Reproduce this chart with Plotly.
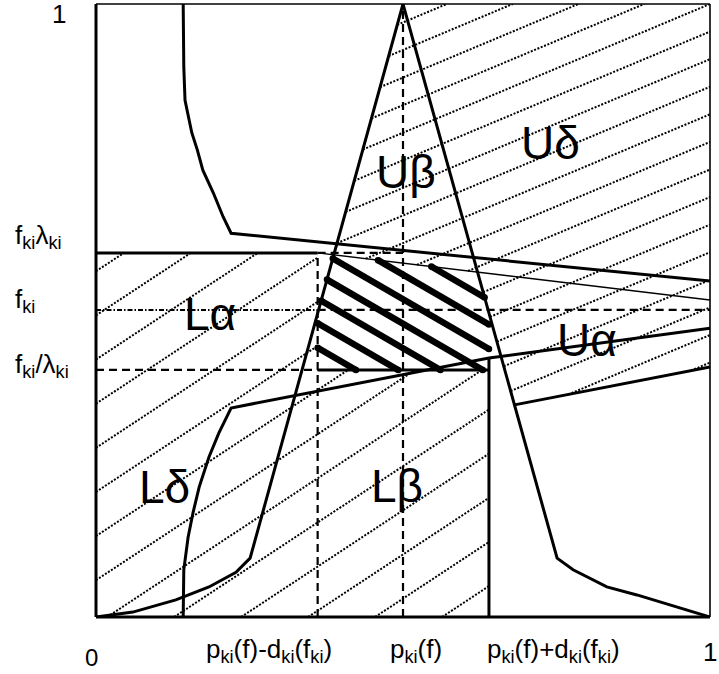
import plotly.graph_objects as go

# ---- key levels (data units, axes 0..1) ----
p_lo, p_mid, p_hi = 0.361, 0.5, 0.640          # p-d, p, p+d
f_hi, f_mid, f_lo = 0.594, 0.501, 0.403        # f*lambda, f, f/lambda

x_tick_pos = [0.0, p_lo, p_mid, p_hi, 1.0]
x_tick_text = ["0",
               "p<sub>ki</sub>(f)-d<sub>ki</sub>(f<sub>ki</sub>)",
               "p<sub>ki</sub>(f)",
               "p<sub>ki</sub>(f)+d<sub>ki</sub>(f<sub>ki</sub>)",
               "1"]
y_tick_pos = [1.0, f_hi, f_mid, f_lo]
y_tick_text = ["1",
               "f<sub>ki</sub>λ<sub>ki</sub>",
               "f<sub>ki</sub>",
               "f<sub>ki</sub>/λ<sub>ki</sub>"]

# triangle (beta) with its bent tails to (0,0) and (1,0)
tri_x = [0.0, 0.060, 0.130, 0.184, 0.228, 0.251, 0.5, 0.751, 0.777, 0.832, 0.881, 0.946, 1.0]
tri_y = [0.0, 0.008, 0.028, 0.049, 0.073, 0.096, 1.0, 0.096, 0.077, 0.049, 0.036, 0.016, 0.0]

# upper-left curve and its straight continuation to the right edge
ul_x = [0.142, 0.142, 0.143, 0.145, 0.150, 0.156, 0.165, 0.174, 0.191, 0.207, 0.220, 1.0]
ul_y = [1.0, 0.953, 0.897, 0.843, 0.816, 0.790, 0.762, 0.729, 0.692, 0.653, 0.626, 0.548]

# lower-left curve, then line through (p_hi, .) to right edge
ll_x = [0.142, 0.142, 0.143, 0.150, 0.158, 0.168, 0.184, 0.200, 0.220, 0.640, 1.0]
ll_y = [0.0, 0.028, 0.077, 0.130, 0.170, 0.212, 0.261, 0.300, 0.341, 0.4225, 0.471]

# thin line from (p_lo, f_hi) to right edge
thin_x = [p_lo, 1.0]
thin_y = [f_hi, 0.517]

# lower line of U-alpha band
ua_x = [0.6816, 1.0]
ua_y = [0.346, 0.408]

region_labels = ["Lα", "Uβ", "Uδ", "Uα", "Lδ", "Lβ"]
region_x = [0.186, 0.505, 0.741, 0.800, 0.112, 0.490]
region_y = [0.494, 0.726, 0.773, 0.452, 0.212, 0.214]

# ---------------- geometry helpers ----------------
def inter(a1, a2, b1, b2):
    (x1, y1), (x2, y2) = a1, a2
    (x3, y3), (x4, y4) = b1, b2
    d = (x1 - x2) * (y3 - y4) - (y1 - y2) * (x3 - x4)
    t = ((x1 - x3) * (y3 - y4) - (y1 - y3) * (x3 - x4)) / d
    return (x1 + t * (x2 - x1), y1 + t * (y2 - y1))

def clip_line(m, c, poly):
    xs = []
    n = len(poly)
    for i in range(n):
        (x1, y1), (x2, y2) = poly[i], poly[(i + 1) % n]
        f1 = y1 - m * x1 - c
        f2 = y2 - m * x2 - c
        if (f1 > 0) != (f2 > 0):
            t = f1 / (f1 - f2)
            xs.append(x1 + t * (x2 - x1))
    xs.sort()
    return [(xs[i], xs[i + 1]) for i in range(0, len(xs) - 1, 2)]

def hatch(poly, m, c_start, c_stop, step):
    X, Y = [], []
    c = c_start
    while c <= c_stop + 1e-9:
        for a, b in clip_line(m, c, poly):
            X += [a, b, None]
            Y += [m * a + c, m * b + c, None]
        c += step
    return X, Y

peak = (tri_x[6], tri_y[6])
lbase = (tri_x[5], tri_y[5])
rbase = (tri_x[7], tri_y[7])
thin_a, thin_b = (thin_x[0], thin_y[0]), (thin_x[1], thin_y[1])
t_left = inter(peak, lbase, thin_a, thin_b)
t_right = inter(peak, rbase, thin_a, thin_b)
ua_start = (ua_x[0], ua_y[0])

upper_poly = [peak, t_left, t_right, ua_start, (ua_x[1], ua_y[1]), (1.0, 1.0)]
lower_poly = [(0.0, 0.0), (p_hi, 0.0), (p_hi, f_lo), (p_lo, f_lo), (p_lo, f_hi), (0.0, f_hi)]
r_at_phi = inter(peak, rbase, (p_hi, 0), (p_hi, 1))
l_at_plo = inter(peak, lbase, (p_lo, 0), (p_lo, 1))
thick_poly = [(p_lo, f_lo), (p_hi, f_lo), r_at_phi, t_right, t_left, l_at_plo]

fig = go.Figure()

def add(x, y, width, dash="solid", mode="lines", **kw):
    fig.add_trace(go.Scatter(x=x, y=y, mode=mode, hoverinfo="skip",
                             line=dict(color="black", width=width, dash=dash), **kw))

DOT = "2px,1.6px"
hx, hy = hatch(lower_poly, 0.66, -0.66, 0.60, 0.072)
add(hx, hy, 2.0, DOT)
hx, hy = hatch(upper_poly, 0.42, -0.05, 1.0, 0.045)
add(hx, hy, 2.0, DOT)
hx, hy = hatch(thick_poly, -0.581, 0.649, 0.889, 0.04)
add(hx, hy, 6.5)
ex = [v for v in hx if v is not None]
ey = [v for v in hy if v is not None]
fig.add_trace(go.Scatter(x=ex, y=ey, mode="markers", hoverinfo="skip",
                         marker=dict(color="black", size=6.5, line=dict(width=0))))

DASH = "8px,5px"
# dashed guide lines
add([p_lo, p_lo, None, p_mid, p_mid, None, p_lo, p_mid],
    [0, f_hi, None, 0, 1, None, f_hi, f_hi], 2.2, DASH)
add([0, p_lo], [f_lo, f_lo], 2.2, DASH)
add([p_lo, 1], [f_mid, f_mid], 2.2, DASH)
add([0, p_lo], [f_mid, f_mid], 2.0, "5px,2px,1.5px,2px")

# solid structure lines
add([0, p_lo], [f_hi, f_hi], 3)
add([p_lo, p_hi], [f_lo, f_lo], 3)
add([p_hi, p_hi], [0, ll_y[9]], 3)
add(tri_x, tri_y, 3)
add(ul_x, ul_y, 3)
add(ll_x, ll_y, 3)
add(ua_x, ua_y, 3)
add(thin_x, thin_y, 1.4)

# frame
shapes = [
    dict(type="line", xref="paper", yref="paper", x0=0, y0=1, x1=1, y1=1, line=dict(color="black", width=1.6)),
    dict(type="line", xref="paper", yref="paper", x0=1, y0=0, x1=1, y1=1, line=dict(color="black", width=1.6)),
    dict(type="line", xref="paper", yref="paper", x0=0, y0=0, x1=0, y1=1, line=dict(color="black", width=3)),
    dict(type="line", xref="paper", yref="paper", x0=0, y0=0, x1=1, y1=0, line=dict(color="black", width=3)),
]

ann = []
for t, x, y in zip(region_labels, region_x, region_y):
    ann.append(dict(x=x, y=y, xref="x", yref="y", text=t, showarrow=False,
                    font=dict(size=46, color="black", family="Liberation Sans"),
                    xanchor="center", yanchor="middle"))

TF = dict(size=26, color="black", family="Liberation Sans")
TF0 = dict(size=24, color="black", family="Liberation Sans")
# x tick labels (paper coords)
xl_x = [-0.0073, 0.2818, 0.5212, 0.7443, 1.0147]
xl_y = [-0.0915, -0.0547, -0.0547, -0.0547, -0.0564]
xl_anchor = ["center", "center", "center", "center", "right"]
xl_yanchor = ["bottom", "middle", "middle", "middle", "middle"]
for i, (t, x, y, a, ya) in enumerate(zip(x_tick_text, xl_x, xl_y, xl_anchor, xl_yanchor)):
    ann.append(dict(x=x, y=y, xref="paper", yref="paper", text=t, showarrow=False,
                    font=TF0 if i == 0 else TF, xanchor=a, yanchor=ya))
# y tick labels (paper coords)
yl_x = [-0.060, -0.135, -0.135, -0.135]
yl_y = [0.983, 0.620, 0.516, 0.410]
yl_anchor = ["center", "left", "left", "left"]
for t, x, y, a in zip(y_tick_text, yl_x, yl_y, yl_anchor):
    ann.append(dict(x=x, y=y, xref="paper", yref="paper", text=t, showarrow=False,
                    font=TF, xanchor=a, yanchor="middle"))

fig.update_layout(
    width=719, height=674, autosize=False,
    margin=dict(l=96, r=9, t=4, b=57, pad=0),
    paper_bgcolor="white", plot_bgcolor="white",
    showlegend=False,
    xaxis=dict(range=[0, 1], visible=False, fixedrange=True),
    yaxis=dict(range=[0, 1], visible=False, fixedrange=True),
    shapes=shapes, annotations=ann,
)
fig.write_html("out.html", config={"displayModeBar": False},
               post_script="document.body.style.margin='0px';document.body.style.overflow='hidden';")
